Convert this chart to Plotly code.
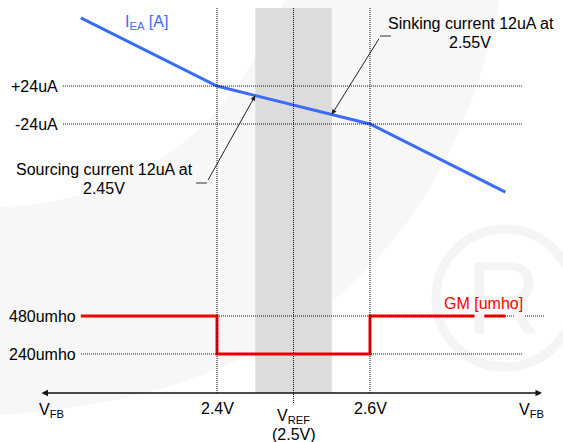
import plotly.graph_objects as go

# ---- data ----
vfb_iea = [2.222, 2.4, 2.6, 2.777]
iea_ua = [110, 24, -24, -110]
vfb_gm = [2.222, 2.4, 2.4, 2.6, 2.6, 2.777]
gm_umho = [480, 480, 240, 240, 480, 480]
iea_ticks = [24, -24]
iea_tick_text = ["+24uA", "-24uA"]
gm_ticks = [480, 240]
gm_tick_text = ["480umho", "240umho"]
v_ticks = [2.4, 2.6]
v_tick_text = ["2.4V", "2.6V"]
vref = 2.5
band = [2.45, 2.55]
src_pt = (2.45, 12)
snk_pt = (2.55, -12)

W, H = 563, 442
FONT = "Liberation Sans, Arial, sans-serif"
BLUE = "#3a6cf6"
RED = "#ff0000"
TXT = "#000000"

def px(xp):
    return xp / W

def py(yp):
    return 1 - yp / H

def pt(xp, yp):
    return f"{px(xp):.5f},{py(yp):.5f}"

fig = go.Figure()
fig.add_trace(go.Scatter(x=vfb_iea, y=iea_ua, mode="lines",
                         line=dict(color=BLUE, width=3), yaxis="y",
                         hoverinfo="skip", showlegend=False))
fig.add_trace(go.Scatter(x=vfb_gm, y=gm_umho, mode="lines",
                         line=dict(color=RED, width=3), yaxis="y2",
                         hoverinfo="skip", showlegend=False))

shapes = []
# faint background swoosh (watermark)
swoosh = (f"M {pt(0,207)} Q {pt(200,200)} {pt(285,0)} L {pt(500,0)} "
          f"Q {pt(420,390)} {pt(0,415)} Z")
shapes.append(dict(type="path", xref="paper", yref="paper", path=swoosh,
                   fillcolor="#f7f7f7", line=dict(width=0), layer="below"))
# watermark circle
shapes.append(dict(type="circle", xref="paper", yref="paper",
                   x0=px(436), x1=px(574), y0=py(367), y1=py(229),
                   line=dict(color="#f4f4f4", width=9), layer="below"))
# gray band
shapes.append(dict(type="rect", xref="x", yref="paper", x0=band[0], x1=band[1],
                   y0=py(393), y1=py(8), fillcolor="#dcdcdc",
                   line=dict(width=0), layer="below"))
dot = dict(color="#111111", width=1, dash="1px,1px")
# vertical dotted lines
for v in v_ticks:
    shapes.append(dict(type="line", xref="x", yref="paper", x0=v, x1=v,
                       y0=py(393), y1=py(8), line=dot))
shapes.append(dict(type="line", xref="x", yref="paper", x0=vref, x1=vref,
                   y0=py(403), y1=py(8), line=dot))
# horizontal dotted lines for current
for t in iea_ticks:
    shapes.append(dict(type="line", xref="paper", yref="y", x0=px(63), x1=px(523),
                       y0=t, y1=t, line=dot))
# GM dotted lines
shapes.append(dict(type="line", xref="x", yref="y2", x0=v_ticks[0], x1=2.8275,
                   y0=gm_ticks[0], y1=gm_ticks[0], line=dot))
shapes.append(dict(type="line", xref="paper", yref="y2", x0=px(81), x1=px(523),
                   y0=gm_ticks[1], y1=gm_ticks[1], line=dot))
# short tails of pointer arrows
shapes.append(dict(type="line", xref="paper", yref="paper", x0=px(196), x1=px(207),
                   y0=py(183), y1=py(183), line=dict(color="#333333", width=1)))
shapes.append(dict(type="line", xref="paper", yref="paper", x0=px(380), x1=px(391),
                   y0=py(36), y1=py(36), line=dict(color="#333333", width=1)))

ann = []
def txt(x, y, s, color=TXT, size=16, xanchor="center", xref="paper", yref="paper"):
    ann.append(dict(x=x, y=y, xref=xref, yref=yref, text=s, showarrow=False,
                    xanchor=xanchor, yanchor="middle",
                    font=dict(family=FONT, size=size, color=color)))

# watermark R
txt(px(503), py(298), "R", color="#f4f4f4", size=104)

# axis arrow
ann.append(dict(x=px(542), y=py(393), xref="paper", yref="paper", ax=-502, ay=0,
                axref="pixel", ayref="pixel", text="", showarrow=True,
                arrowside="end+start", arrowhead=2, arrowsize=1, arrowwidth=1.3,
                arrowcolor="#111111", standoff=0, startstandoff=0))
# pointer arrows
ann.append(dict(x=src_pt[0], y=src_pt[1], xref="x", yref="y", ax=-48, ay=86,
                text="", showarrow=True, arrowhead=2, arrowsize=1, arrowwidth=1,
                arrowcolor="#222222", standoff=0))
ann.append(dict(x=snk_pt[0], y=snk_pt[1], xref="x", yref="y", ax=48, ay=-77,
                text="", showarrow=True, arrowhead=2, arrowsize=1, arrowwidth=1,
                arrowcolor="#222222", standoff=0))

txt(px(104), py(169), "Sourcing current 12uA at")
txt(px(104), py(188), "2.45V")
txt(px(471), py(23), "Sinking current 12uA at")
txt(px(470), py(43), "2.55V")
txt(px(123), py(22), "I<sub>EA</sub> [A]", color=BLUE, xanchor="left")
txt(px(525), py(303), "GM [umho]", color=RED, xanchor="right")

for t, s in zip(iea_ticks, iea_tick_text):
    ann.append(dict(x=px(60), y=t, xref="paper", yref="y", text=s, showarrow=False,
                    xanchor="right", yanchor="middle",
                    font=dict(family=FONT, size=16, color=TXT)))
for t, s in zip(gm_ticks, gm_tick_text):
    ann.append(dict(x=px(78), y=t, xref="paper", yref="y2", text=s, showarrow=False,
                    xanchor="right", yanchor="middle",
                    font=dict(family=FONT, size=16, color=TXT)))
for v, s in zip(v_ticks, v_tick_text):
    ann.append(dict(x=v, y=py(408), xref="x", yref="paper", text=s, showarrow=False,
                    xanchor="center", yanchor="middle",
                    font=dict(family=FONT, size=16, color=TXT)))
ann.append(dict(x=vref, y=py(416), xref="x", yref="paper", text="V<sub>REF</sub>",
                showarrow=False, xanchor="center", yanchor="middle",
                font=dict(family=FONT, size=16, color=TXT)))
ann.append(dict(x=vref, y=py(434), xref="x", yref="paper", text="(2.5V)",
                showarrow=False, xanchor="center", yanchor="middle",
                font=dict(family=FONT, size=16, color=TXT)))
txt(px(37), py(410), "V<sub>FB</sub>", xanchor="left")
txt(px(517), py(410), "V<sub>FB</sub>", xanchor="left")

fig.update_layout(
    width=W, height=H,
    margin=dict(l=0, r=0, t=0, b=0),
    paper_bgcolor="white", plot_bgcolor="rgba(0,0,0,0)",
    xaxis=dict(range=[2.11634, 2.85229], visible=False, fixedrange=True),
    yaxis=dict(range=[-425.68, 132.63], visible=False, fixedrange=True),
    yaxis2=dict(range=[-315.79, 2475.79], visible=False, overlaying="y",
                fixedrange=True),
    shapes=shapes, annotations=ann, showlegend=False,
)

fig.write_html("out.html", config={"displayModeBar": False},
               post_script="document.body.style.margin='0';document.body.style.overflow='hidden';")
